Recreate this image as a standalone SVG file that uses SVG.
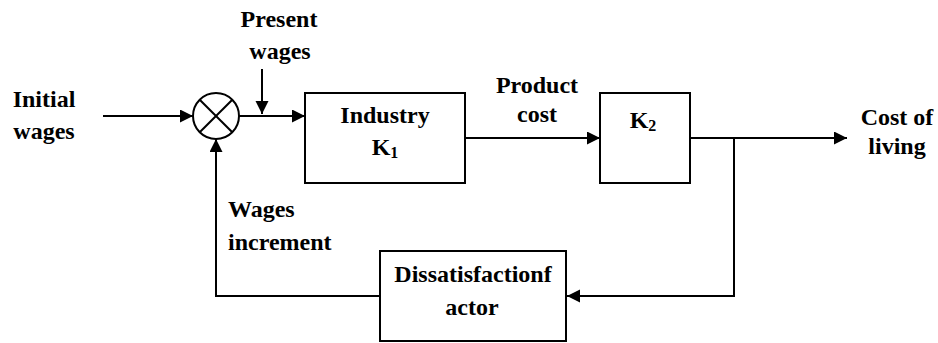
<svg xmlns="http://www.w3.org/2000/svg" width="938" height="343" viewBox="0 0 938 343">
<style>
.ln{fill:none;stroke:#000;stroke-width:2}
.bx{fill:#fff;stroke:#000;stroke-width:2}
text{font-family:"Liberation Serif","Times New Roman",serif;font-weight:bold;font-size:24px;fill:#000}
.m{text-anchor:middle}
</style>
<defs>
<marker id="ah" markerWidth="14" markerHeight="14" refX="13" refY="6.5" orient="auto" markerUnits="userSpaceOnUse" viewBox="0 0 14 14">
<path d="M0,0 L13,6.5 L0,13 Z" fill="#000"/>
</marker>
</defs>
<rect width="938" height="343" fill="#fff"/>
<g id="connectors">
<line class="ln" x1="103" y1="116" x2="193" y2="116" marker-end="url(#ah)"/>
<line class="ln" x1="239" y1="116" x2="305" y2="116" marker-end="url(#ah)"/>
<line class="ln" x1="262" y1="69" x2="262" y2="114" marker-end="url(#ah)"/>
<line class="ln" x1="465" y1="138" x2="600" y2="138" marker-end="url(#ah)"/>
<line class="ln" x1="690" y1="138" x2="847" y2="138" marker-end="url(#ah)"/>
<polyline class="ln" points="734,138 734,296 567,296" marker-end="url(#ah)"/>
<polyline class="ln" points="380,296 216,296 216,139" marker-end="url(#ah)"/>
</g>
<g id="sum">
<circle class="bx" cx="216" cy="116" r="23"/>
<line class="ln" x1="199.7" y1="99.7" x2="232.3" y2="132.3"/>
<line class="ln" x1="232.3" y1="99.7" x2="199.7" y2="132.3"/>
</g>
<g id="industry">
<rect class="bx" x="305" y="93" width="160" height="90"/>
<text class="m" x="385" y="123">Industry</text>
<text class="m" x="385" y="155">K<tspan font-size="16" dy="3">1</tspan></text>
</g>
<g id="k2">
<rect class="bx" x="600" y="93" width="90" height="90"/>
<text class="m" x="643" y="128">K<tspan font-size="16" dy="3">2</tspan></text>
</g>
<g id="dissatisfaction">
<rect class="bx" x="380" y="251" width="186" height="90"/>
<text class="m" x="473" y="282" font-size="21.5">Dissatisfactionf</text>
<text class="m" x="472" y="315" font-size="21.5">actor</text>
</g>
<g id="labels">
<text class="m" x="44" y="107">Initial</text>
<text class="m" x="44" y="139">wages</text>
<text class="m" x="279" y="27">Present</text>
<text class="m" x="280" y="59">wages</text>
<text class="m" x="537" y="93">Product</text>
<text class="m" x="537" y="122">cost</text>
<text class="m" x="897" y="125">Cost of</text>
<text class="m" x="897" y="154">living</text>
<text x="228" y="217">Wages</text>
<text x="228" y="250">increment</text>
</g>
</svg>
